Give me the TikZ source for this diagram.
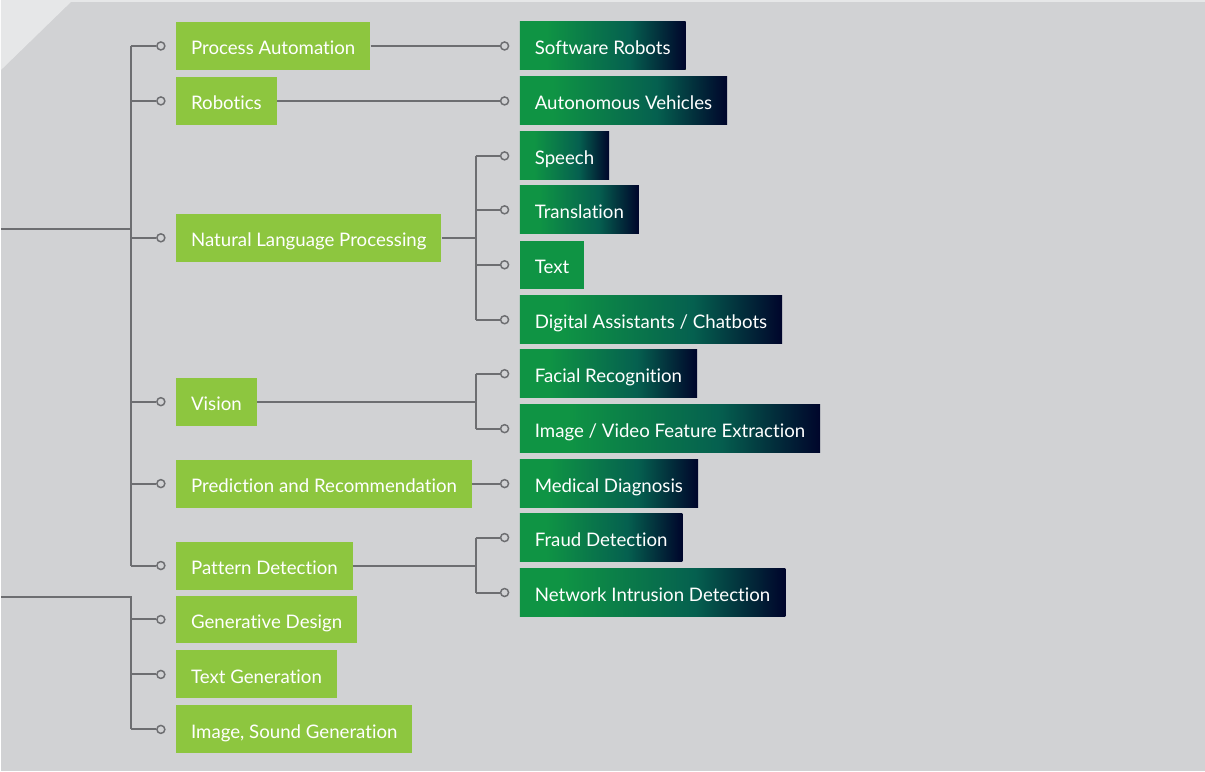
\documentclass[tikz,border=0pt]{standalone}
\usepackage{fontspec}
\setmainfont[Ligatures=NoCommon]{Lato}
\usepackage{tikz}

\definecolor{bggray}{HTML}{D1D2D4}
\definecolor{bglight}{HTML}{E6E7E8}
\definecolor{lime}{HTML}{8DC63F}
\definecolor{dkgreen}{HTML}{0F9444}
\definecolor{midteal}{HTML}{05604F}
\definecolor{navy}{HTML}{00052B}
\definecolor{wire}{HTML}{6D6E71}
\pgfdeclarehorizontalshading{greennavy}{100bp}{color(0bp)=(dkgreen); color(33bp)=(dkgreen); color(58bp)=(midteal); color(75bp)=(navy); color(100bp)=(navy)}

\begin{document}
\begin{tikzpicture}[x=0.75pt,y=-0.75pt,
	field/.style={fill=lime,text=white,anchor=west,minimum height=36pt,inner xsep=11.25pt,text height=13.5pt,text depth=0pt,font=\fontsize{14}{16}\selectfont},
	app/.style={field,shading=greennavy},
	plain/.style={field,fill=dkgreen},
	dot/.style={circle,draw=wire,fill=bggray,line width=1.1pt,inner sep=0pt,minimum size=6pt},
	wire/.style={draw=wire,line width=1.5pt}]
	%\draw[gray,step=50] (0,0) grid (1205,772);
	\fill[bggray] (0,0) rectangle (1205,772);
	\fill[bglight] (0,0) -- (72,0) -- (0,70) -- cycle;
	\fill[bglight] (0,0) rectangle (1205,1.5);

	% first level
	\node[field] (pa) at (175,46) {Process Automation};
	\node[field] (rob) at (175,101) {Robotics};
	\node[field] (nlp) at (175,238) {Natural Language Processing};
	\node[field] (vis) at (175,402) {Vision};
	\node[field] (pred) at (175,484) {Prediction and Recommendation};
	\node[field] (pat) at (175,566) {Pattern Detection};
	\node[field] (gen) at (175,620) {Generative Design};
	\node[field] (tgen) at (175,675) {Text Generation};
	\node[field] (isg) at (175,730) {Image, Sound Generation};

	% second level
	\node[app] (sr) at (519,46) {Software Robots};
	\node[app] (av) at (519,101) {Autonomous Vehicles};
	\node[app] (sp) at (519,156) {Speech};
	\node[app] (tr) at (519,210) {Translation};
	\node[plain] (tx) at (519,265) {Text};
	\node[app] (da) at (519,320) {Digital Assistants / Chatbots};
	\node[app] (fr) at (519,374) {Facial Recognition};
	\node[app] (ive) at (519,429) {Image / Video Feature Extraction};
	\node[app] (md) at (519,484) {Medical Diagnosis};
	\node[app] (fd) at (519,538) {Fraud Detection};
	\node[app] (nid) at (519,593) {Network Intrusion Detection};

	% left trunks
	\coordinate (in1) at (0,229);
	\coordinate (in2) at (0,597);
	\coordinate (t1) at (130,229);
	\coordinate (t2) at (130,597);
	\foreach \n in {pa,rob,nlp,vis,pred,pat,gen,tgen,isg}
		\node[dot] (l\n) at (160,0 |- \n.west) {};
	\draw[wire] (in1) -- (t1);
	\draw[wire] (in2) -- (t2) -- (t2 |- lisg);
	\draw[wire] (t1 |- lpa) -- (t1 |- lpat);
	\foreach \n in {pa,rob,nlp,vis,pred,pat,gen,tgen,isg}
		\draw[wire] (t1 |- l\n) -- (l\n.west);

	% right side
	\foreach \n in {sr,av,sp,tr,tx,da,fr,ive,md,fd,nid}
		\node[dot] (r\n) at (504,0 |- \n.west) {};
	\coordinate (jn) at (475,238);
	\coordinate (jv) at (475,402);
	\coordinate (jp) at (475,566);
	\draw[wire] (pa.east) -- (rsr.west);
	\draw[wire] (rob.east) -- (rav.west);
	\draw[wire] (pred.east) -- (rmd.west);
	\draw[wire] (nlp.east) -- (jn);
	\draw[wire] (jn |- rsp) -- (jn |- rda);
	\draw[wire] (vis.east) -- (jv);
	\draw[wire] (jv |- rfr) -- (jv |- rive);
	\draw[wire] (pat.east) -- (jp);
	\draw[wire] (jp |- rfd) -- (jp |- rnid);
	\foreach \n in {sp,tr,tx,da,fr,ive,fd,nid}
		\draw[wire] (475,0 |- r\n) -- (r\n.west);
\end{tikzpicture}
\end{document}
